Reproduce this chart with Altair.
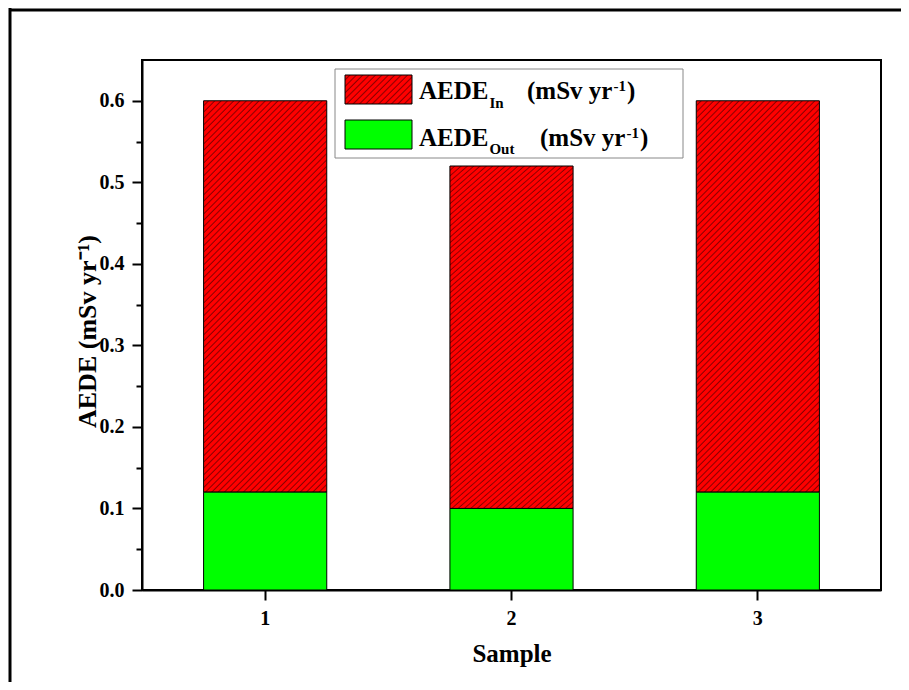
import altair as alt
import pandas as pd

# ---------------- data ----------------
samples = ["1", "2", "3"]
aede_out = [0.12, 0.10, 0.12]
aede_in = [0.48, 0.42, 0.48]
y_ticks = [round(i * 0.05, 2) for i in range(13)]
legend_main = ["AEDE", "AEDE"]
legend_sub = ["In", "Out"]
legend_unit = "(mSv yr"
legend_sup = "-1"

df = pd.DataFrame({"sample": samples, "out": aede_out, "inn": aede_in})

FONT = "'Liberation Serif', 'Times New Roman', Times, serif"
W, H = 739, 530
PAD = {"left": 134, "top": 52, "right": 20, "bottom": 92}
RED, DARK, GREEN = "#ff0000", "#8a0000", "#00ff00"


def hatch(w, h, period=4.5):
    k = h / w
    a = (1 + k) / (1 + k * k)
    b = k * a
    n = max(1, round((w + h) / 2 ** 0.5 / period))
    stops = []
    for i in range(n):
        t0 = i / n
        stops += [
            {"offset": t0, "color": RED},
            {"offset": t0 + 0.55 / n, "color": RED},
            {"offset": t0 + 0.8 / n, "color": DARK},
        ]
    stops.append({"offset": 1, "color": RED})
    return {"gradient": "linear", "x1": 0, "y1": 0, "x2": a, "y2": b, "stops": stops}


xenc = alt.X(
    "sample:N",
    scale=alt.Scale(paddingInner=0.5, paddingOuter=0.25),
    axis=alt.Axis(
        title="Sample", labelAngle=0, tickSize=10, tickWidth=2, tickColor="black",
        labelPadding=8, labelFontSize=20, labelFont=FONT, labelFontWeight="bold",
        labelColor="black", domainColor="black", domainWidth=2,
        titleFont=FONT, titleFontSize=25, titleFontWeight="bold", titleColor="black",
        titleX=W / 2, titleY=71, titleBaseline="alphabetic", titleAlign="center",
    ),
)

yscale = alt.Scale(domain=[0, 0.65], nice=False, zero=True)
yaxis = alt.Axis(
    title="AEDE (mSv yr\u207b\u00b9)", values=y_ticks,
    labelExpr="round(datum.value*20) % 2 == 0 ? format(datum.value, '.1f') : ''",
    tickSize={"condition": {"test": "round(datum.value*20) % 2 == 0", "value": 10}, "value": 6},
    tickWidth=2, tickColor="black", labelPadding=8, labelFontSize=20, labelFont=FONT,
    labelFontWeight="bold", labelColor="black", domainColor="black", domainWidth=2,
    grid=False, titleFont=FONT, titleFontSize=26, titleFontWeight="bold",
    titleColor="black", titleX=-55, titleY=H / 2 + 6, titleAngle=-90,
    titleAlign="center", titleBaseline="middle",
)

base = alt.Chart(df).transform_calculate(total="datum.out + datum.inn")

green = base.mark_bar(color=GREEN, stroke="black", strokeWidth=1).encode(
    x=xenc,
    y=alt.Y("out:Q", scale=yscale, axis=yaxis),
    y2=alt.datum(0),
)

red = base.mark_bar(fill=hatch(124, 391), stroke="black", strokeWidth=1).encode(
    x=xenc,
    y=alt.Y("total:Q", scale=yscale, axis=yaxis),
    y2="out:Q",
)

# ---------------- hand-made legend ----------------
one = pd.DataFrame({"k": [0]})


def box(x, x2, y, y2, **kw):
    return alt.Chart(one).mark_rect(**kw).encode(
        x=alt.value(x), x2=alt.value(x2), y=alt.value(y), y2=alt.value(y2)
    )


def txt(s, x, y, size):
    return alt.Chart(pd.DataFrame({"t": [s]})).mark_text(
        font=FONT, fontWeight="bold", fontSize=size, color="black",
        align="left", baseline="alphabetic",
    ).encode(x=alt.value(x), y=alt.value(y), text="t:N")


WID = {"A": .722, "E": .667, "D": .722, "I": .389, "n": .556, "O": .778, "u": .556,
       "t": .333, "(": .333, "m": .833, "S": .556, "v": .5, " ": .25, "y": .5,
       "r": .444, "-": .333, "1": .5, ")": .333}


def tw(s, size):
    return sum(WID.get(c, .5) for c in s) * size


MAIN, SMALL = 25, 15
legend_layers = [
    box(193, 541, 9, 98, fill="white", stroke="#888888", strokeWidth=1),
    box(203, 270, 15, 44, fill=hatch(67, 29), stroke="black", strokeWidth=1),
    box(203, 270, 60, 89, fill=GREEN, stroke="black", strokeWidth=1),
]
rows = [(39, 48, 31, 385), (86, 94, 78, 398)]
for (base_y, sub_y, sup_y, unit_x), m, s in zip(rows, legend_main, legend_sub):
    x0 = 277
    legend_layers.append(txt(m, x0, base_y, MAIN))
    xs = x0 + tw(m, MAIN) + 1
    legend_layers.append(txt(s, xs, sub_y, SMALL))
    legend_layers.append(txt(legend_unit, unit_x, base_y, MAIN))
    xp = unit_x + tw(legend_unit, MAIN) + 1
    legend_layers.append(txt(legend_sup, xp, sup_y, SMALL))
    legend_layers.append(txt(")", xp + tw(legend_sup, SMALL) + 1, base_y, MAIN))

# outer picture frame (left and top edges)
frame_left = alt.Chart(one).mark_rule(color="black", strokeWidth=3).encode(
    x=alt.value(-132), y=alt.value(-52), y2=alt.value(H + PAD["bottom"])
)
frame_top = alt.Chart(one).mark_rule(color="black", strokeWidth=3).encode(
    x=alt.value(-133), x2=alt.value(W + PAD["right"]), y=alt.value(-50)
)

chart = alt.layer(red, green, *legend_layers, frame_left, frame_top).properties(
    width=W, height=H, padding=PAD, autosize=alt.AutoSizeParams(type="none"),
    background="white",
).configure_view(stroke="black", strokeWidth=2)

chart.save("out.html", embed_options={"renderer": "svg", "actions": False})
